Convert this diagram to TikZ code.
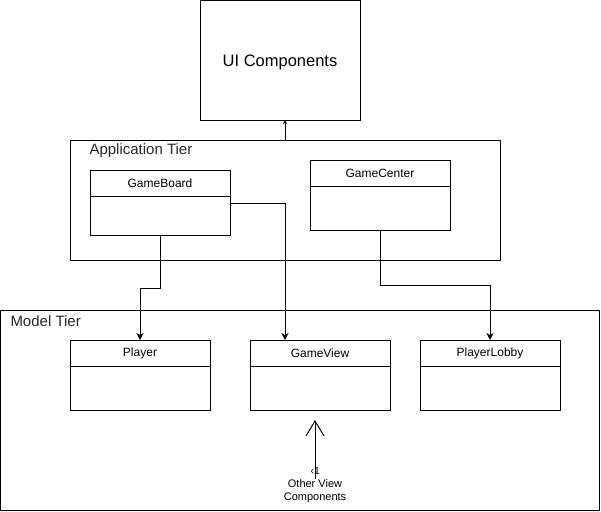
\documentclass[tikz,border=0pt]{standalone}
\usepackage{fontspec}
\setmainfont{Liberation Sans}
\usetikzlibrary{arrows.meta}

\begin{document}
\begin{tikzpicture}[x=1pt, y=-1pt, line width=1pt,
    tier/.style={draw, anchor=north west, inner sep=0pt, outer sep=0pt},
    tierlabel/.style={anchor=west, inner sep=0pt, text=black!85, font=\fontsize{15}{18}\selectfont},
    classhead/.style={draw, anchor=north west, minimum width=140pt, minimum height=26pt, inner sep=0pt, outer sep=0pt, font=\fontsize{12}{14}\selectfont},
    classbody/.style={draw, anchor=north west, minimum width=140pt, inner sep=0pt, outer sep=0pt},
    assoc/.style={-{Stealth[length=7pt, width=7pt, inset=2pt]}},
    ]
    \useasboundingbox (0,0) rectangle (601,511);

    \node[draw, anchor=north west, outer sep=0pt, minimum width=160pt, minimum height=119.5pt,
        label={[yshift=-2.5pt, font=\fontsize{16.5}{19}\selectfont]center:UI Components}] (ui) at (200,0.5) {};

    % Application Tier
    \node[tier, minimum width=430pt, minimum height=120pt] (apptier) at (70,140) {};
    \node[tierlabel] (applabel) at (89,151) {Application Tier};
    \node[classhead] (gbhead) at (90,170) {GameBoard};
    \node[classbody, minimum height=39pt] (gbbody) at (gbhead.south west) {};
    \node[classhead] (gchead) at (310,160) {GameCenter};
    \node[classbody, minimum height=44pt] (gcbody) at (gchead.south west) {};

    % Model Tier
    \node[tier, minimum width=599pt, minimum height=200pt] (modeltier) at (0.5,310) {};
    \node[tierlabel] (modellabel) at (10,321) {Model Tier};
    \node[classhead] (plhead) at (70,340) {Player};
    \node[classbody, minimum height=44pt] (plbody) at (plhead.south west) {};
    \node[classhead] (gvhead) at (250,340) {GameView};
    \node[classbody, minimum height=44pt] (gvbody) at (gvhead.south west) {};
    \node[classhead] (lbhead) at (420,340) {PlayerLobby};
    \node[classbody, minimum height=44pt] (lbbody) at (lbhead.south west) {};

    \node[align=center, inner sep=0pt, font=\fontsize{11}{12.5}\selectfont] (others) at (315,491) {Other View\\Components};
    \node[anchor=west, inner sep=0pt, font=\fontsize{10.5}{11}\selectfont] (mult) at (310,470.5) {‹1};

    % connectors
    \draw[-{Stealth[length=4pt, width=4pt]}] ([xshift=215pt]apptier.north west) -- ([xshift=85pt]ui.south west);
    \draw[assoc] (gbbody.south) |- ([yshift=52pt]plhead.north) -- (plhead.north);
    \draw[assoc] ([yshift=12.5pt]gbbody.east) -| ([xshift=35pt]gvhead.north west);
    \draw[assoc] (gcbody.south) |- ([yshift=55pt]lbhead.north) -- (lbhead.north);
    \draw[-{Straight Barb[length=15pt, width=18pt]}] (others.north) -- ([xshift=65pt, yshift=-10pt]gvbody.south west);
\end{tikzpicture}
\end{document}
